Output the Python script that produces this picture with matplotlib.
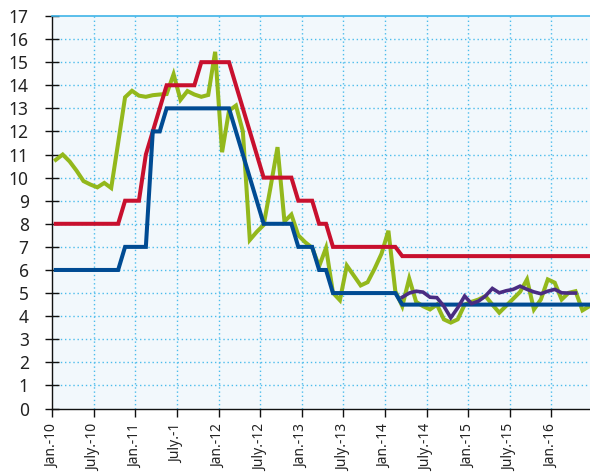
import numpy as np
import matplotlib
matplotlib.use("Agg")
import matplotlib.pyplot as plt

# Monthly observations, Jan-2010 .. Jun-2016
refinancing_rate = (
    [8] * 10 + [9] * 3 + [11, 12, 13] + [14] * 5 + [15] * 5 +
    [14, 13, 12, 11] + [10] * 5 + [9] * 3 + [8] * 2 + [7] * 10 + [6.6] * 28
)
discount_rate = (
    [6] * 10 + [7] * 4 + [12] * 2 + [13] * 10 +
    [12, 11, 10, 9] + [8] * 5 + [7] * 3 + [6] * 2 + [5] * 10 + [4.5] * 28
)
market_rate = [
    10.77, 11.0, 10.7, 10.3, 9.85, 9.7, 9.58, 9.77, 9.55, 11.5,
    13.48, 13.76, 13.55, 13.5, 13.57, 13.6, 13.62, 14.48, 13.37, 13.75,
    13.6, 13.5, 13.58, 15.45, 11.1, 12.9, 13.12, 12.0, 7.3, 7.65,
    7.95, 9.6, 11.32, 8.1, 8.4, 7.5, 7.2, 6.96, 6.16, 6.96,
    5.01, 4.69, 6.19, 5.76, 5.33, 5.47, 6.05, 6.7, 7.7, 5.08,
    4.43, 5.63, 4.62, 4.43, 4.29, 4.5, 3.86, 3.72, 3.86, 4.5,
    4.62, 4.72, 4.87, 4.5, 4.15, 4.45, 4.75, 5.05, 5.59, 4.29,
    4.72, 5.59, 5.45, 4.72, 5.01, 5.08, 4.25, 4.43,
]
# Series that starts in Mar-2014
short_rate_start = 50
short_rate = [
    4.82, 5.0, 5.08, 5.04, 4.82, 4.8, 4.43, 3.93, 4.36, 4.87,
    4.54, 4.65, 4.87, 5.2, 5.01, 5.1, 5.16, 5.3, 5.16, 5.05,
    4.97, 5.08, 5.16, 5.01, 5.0, 5.0,
]

tick_labels = ["Jan.-10", "July.-10", "Jan.-11", "July.-1", "Jan.-12", "July.-12",
               "Jan.-13", "July.-13", "Jan.-14", "July.-14", "Jan.-15", "July.-15",
               "Jan.-16"]

n_months = len(market_rate)
x = np.arange(n_months) + 0.5
x_short = np.arange(short_rate_start, short_rate_start + len(short_rate)) + 0.5

plt.rcParams["font.family"] = ["Noto Sans", "DejaVu Sans"]

fig = plt.figure(figsize=(5.9, 4.73), dpi=100)
W, H = 590, 473
ax = fig.add_axes([52.3 / W, 1 - 408.5 / H, (78 * 6.93) / W, (408.5 - 16) / H])
ax.set_facecolor("#f2f8fc")

lw = 2.9
ax.plot(x, market_rate, color="#93b81c", lw=lw, solid_joinstyle="miter", zorder=3)
ax.plot(x, refinancing_rate, color="#c8102e", lw=lw, solid_joinstyle="miter", zorder=4)
ax.plot(x, discount_rate, color="#004b93", lw=lw, solid_joinstyle="miter", zorder=5)
ax.plot(x_short, short_rate, color="#4a2c82", lw=2.6, solid_joinstyle="miter", zorder=6)

ax.set_xlim(0, 78)
ax.set_ylim(0, 17)
ax.set_yticks(range(0, 18))
ax.set_xticks(range(0, 6 * len(tick_labels), 6))
ax.set_xticklabels(tick_labels, rotation=90)

grid_color = "#4cbcec"
for v in range(1, 17):
    ax.axhline(v, color=grid_color, lw=1.0, ls=(0, (1, 2)), zorder=1)
for t in range(6, 6 * len(tick_labels), 6):
    ax.axvline(t, color=grid_color, lw=1.0, ls=(0, (1, 2)), zorder=1)

ax.spines["top"].set_color("#3fb4e8")
ax.spines["top"].set_linewidth(1.2)
ax.spines["right"].set_visible(False)
for s in ("left", "bottom"):
    ax.spines[s].set_color("#111111")
    ax.spines[s].set_linewidth(1.0)

ax.tick_params(axis="y", direction="inout", length=10, width=1.0, color="#111111",
               labelsize=12.5, pad=12, labelcolor="#222222")
ax.tick_params(axis="x", direction="out", length=6, width=1.0, color="#111111",
               labelsize=10, pad=5, labelcolor="#222222")

fig.savefig("out.png", dpi=100)
